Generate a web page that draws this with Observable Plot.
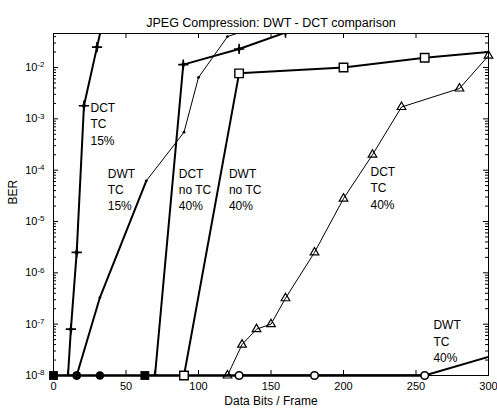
<!DOCTYPE html>
<html><head><meta charset="utf-8">
<script src="https://cdn.jsdelivr.net/npm/d3@7"></script>
<script src="https://cdn.jsdelivr.net/npm/@observablehq/plot@0.6"></script>
<style>body{margin:0;background:#fff} svg{font-family:Arial,"Liberation Sans",sans-serif;background:#fff}</style>
</head><body><div id="chart"></div>
<script>
const FLOOR = 1e-8;
const titleText = "JPEG Compression: DWT - DCT comparison";
const xLabel = "Data Bits / Frame";
const yLabel = "BER";

const dctTc15X = [10, 12, 16, 21, 30, 34];
const dctTc15Ber = [1e-8, 8e-8, 2.5e-6, 1.8e-3, 2.5e-2, 8e-2];
const dwtTc15X = [16, 32, 64, 90, 100, 120, 140];
const dwtTc15Ber = [1e-8, 3.3e-7, 6.2e-5, 5.5e-4, 6.4e-3, 4.0e-2, 6.2e-2];
const dctNoTc40X = [70, 89.5, 128, 160];
const dctNoTc40Ber = [1e-8, 1.14e-2, 2.3e-2, 4.8e-2];
const dwtNoTc40X = [90, 128, 200, 256, 300];
const dwtNoTc40Ber = [1e-8, 7.7e-3, 1.0e-2, 1.55e-2, 2.0e-2];
const dctTc40X = [120, 130, 140, 150, 160, 180, 200, 220, 240, 280, 300];
const dctTc40Ber = [1e-8, 4e-8, 8e-8, 1e-7, 3.2e-7, 2.5e-6, 2.8e-5, 2e-4, 1.7e-3, 3.9e-3, 1.7e-2];
const dwtTc40X = [128, 180, 256, 300];
const dwtTc40Ber = [1e-8, 1e-8, 1e-8, 2.3e-8];
const floorSquareX = [0, 63];
const floorCircleX = [16, 32];

const labels = ["DCT\nTC\n15%", "DWT\nTC\n15%", "DCT\nno TC\n40%", "DWT\nno TC\n40%", "DCT\nTC\n40%", "DWT\nTC\n40%"];
const labelX = [25.5, 37.4, 86.4, 121, 218.6, 262];
const labelBer = [2.3e-3, 1.2e-4, 1.2e-4, 1.2e-4, 1.3e-4, 1.34e-7];

const xTicks = [0, 50, 100, 150, 200, 250, 300];
const yTicks = [1e-8, 1e-7, 1e-6, 1e-5, 1e-4, 1e-3, 1e-2];
const yTop = 0.046;

const pts = (xs, ys) => xs.map((x, i) => ({x, y: ys[i]}));
const dctTc15 = pts(dctTc15X, dctTc15Ber);
const dwtTc15 = pts(dwtTc15X, dwtTc15Ber);
const dctNoTc40 = pts(dctNoTc40X, dctNoTc40Ber);
const dwtNoTc40 = pts(dwtNoTc40X, dwtNoTc40Ber);
const dctTc40 = pts(dctTc40X, dctTc40Ber);
const dwtTc40 = pts(dwtTc40X, dwtTc40Ber);
const floorSquares = floorSquareX.map(x => ({x, y: FLOOR}));
const floorCircles = floorCircleX.map(x => ({x, y: FLOOR}));
const floorLine = [...dctTc15, ...dwtTc15, ...dctNoTc40, ...dwtNoTc40, ...dctTc40, ...dwtTc40, ...floorSquares, ...floorCircles]
  .filter(d => d.y === FLOOR).sort((a, b) => a.x - b.x);
const stars = [...dctTc15, ...dctNoTc40];
const annot = labels.map((t, i) => ({t, x: labelX[i], y: labelBer[i]}));
const minor = [];
for (let k = -8; k <= -2; k++) for (let m = 2; m <= 9; m++) { const v = m * Math.pow(10, k); if (v < yTop) minor.push(v); }

const W = 497, H = 412, mL = 53, mR = 9, mT = 33, mB = 37;
const fw = W - mL - mR, fh = H - mT - mB;

const chart = Plot.plot({
  width: W, height: H,
  marginLeft: mL, marginRight: mR, marginTop: mT, marginBottom: mB,
  style: {fontFamily: "Arial, 'Liberation Sans', sans-serif", background: "#fff", color: "#000"},
  x: {domain: [0, 300]},
  y: {type: "log", domain: [FLOOR, yTop]},
  marks: [
    Plot.frame({stroke: "#000", strokeWidth: 1}),
    Plot.ruleX(xTicks, {insetTop: fh - 5, stroke: "#000"}),
    Plot.ruleX(xTicks, {insetBottom: fh - 5, stroke: "#000"}),
    Plot.ruleY(yTicks, {insetRight: fw - 5, stroke: "#000"}),
    Plot.ruleY(yTicks, {insetLeft: fw - 5, stroke: "#000"}),
    Plot.ruleY(minor, {insetRight: fw - 3, stroke: "#000"}),
    Plot.ruleY(minor, {insetLeft: fw - 3, stroke: "#000"}),
    Plot.axisX({ticks: xTicks, tickSize: 0, tickPadding: 7, fontSize: 11, label: null}),
    Plot.axisY({ticks: yTicks, tickSize: 0, tickPadding: 9, fontSize: 11, label: null,
      tickFormat: d => String(Math.round(Math.log10(d)))}),
    Plot.line(floorLine, {x: "x", y: "y", stroke: "#000", strokeWidth: 2.5}),
    Plot.line(dctTc15, {x: "x", y: "y", stroke: "#000", strokeWidth: 2, clip: true}),
    Plot.line(dwtTc15.slice(0, 3), {x: "x", y: "y", stroke: "#000", strokeWidth: 2, clip: true}),
    Plot.line(dwtTc15.slice(2), {x: "x", y: "y", stroke: "#000", strokeWidth: 1, clip: true}),
    Plot.line(dctNoTc40, {x: "x", y: "y", stroke: "#000", strokeWidth: 2, clip: true}),
    Plot.line(dwtNoTc40, {x: "x", y: "y", stroke: "#000", strokeWidth: 2, clip: true}),
    Plot.line(dctTc40, {x: "x", y: "y", stroke: "#000", strokeWidth: 1, clip: true}),
    Plot.line(dwtTc40, {x: "x", y: "y", stroke: "#000", strokeWidth: 2, clip: true}),
    Plot.dot(stars, {x: "x", y: "y", symbol: "plus", r: 3.4, stroke: "#000", strokeWidth: 1.6, clip: true}),
    Plot.dot(stars, {x: "x", y: "y", symbol: "diamond", r: 2.3, fill: "#000", clip: true}),
    Plot.dot(dwtTc15.slice(1), {x: "x", y: "y", r: 1.4, fill: "#000", clip: true}),
    Plot.dot(floorCircles, {x: "x", y: "y", r: 4.3, fill: "#000"}),
    Plot.dot(dwtTc15.slice(0, 1), {x: "x", y: "y", r: 4.3, fill: "#000"}),
    Plot.dot(floorSquares, {x: "x", y: "y", symbol: "square", r: 5, fill: "#000"}),
    Plot.dot(dwtNoTc40.filter(d => d.x < 300), {x: "x", y: "y", symbol: "square", r: 4.8, fill: "#fff", stroke: "#000", strokeWidth: 1.4}),
    Plot.dot(dctTc40, {x: "x", y: "y", symbol: "triangle", r: 3.2, fill: "none", stroke: "#000", strokeWidth: 1.2}),
    Plot.dot(dwtTc40.filter(d => d.x < 300), {x: "x", y: "y", r: 3.8, fill: "#fff", stroke: "#000", strokeWidth: 1.6}),
    Plot.text(annot, {x: "x", y: "y", text: "t", textAnchor: "start", lineAnchor: "top", lineHeight: 1.36, fontSize: 12, fill: "#000"}),
    Plot.text([titleText], {frameAnchor: "top", dy: -15, fontSize: 12.5, fill: "#000"}),
    Plot.text([xLabel], {frameAnchor: "bottom", dy: 29, fontSize: 12, fill: "#000"}),
    Plot.text([yLabel], {frameAnchor: "left", dx: -40, rotate: -90, fontSize: 12, fill: "#000"})
  ]
});

d3.select(chart).selectAll('g[aria-label="y-axis tick label"] text').each(function() {
  const t = d3.select(this);
  const e = t.text();
  t.text(null);
  t.append("tspan").text("10");
  t.append("tspan").attr("dy", "-0.45em").attr("font-size", "8px").text(e);
});
document.getElementById("chart").appendChild(chart);
</script>
</body></html>
